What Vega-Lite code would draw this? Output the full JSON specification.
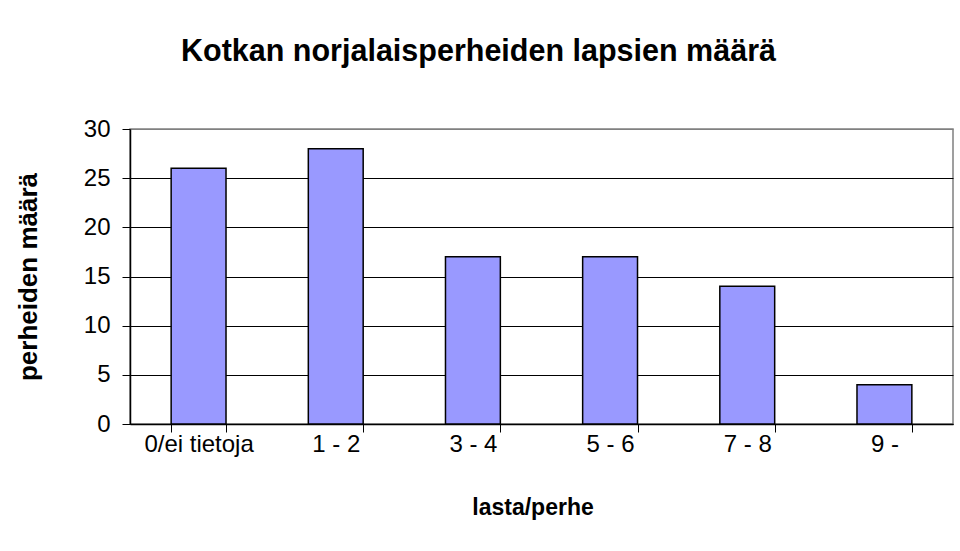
{
  "$schema": "https://vega.github.io/schema/vega-lite/v6.json",
  "width": 823,
  "height": 295,
  "autosize": {"type": "none"},
  "padding": {"left": 130, "top": 129, "right": 7, "bottom": 127},
  "background": "white",
  "title": {
    "text": "Kotkan norjalaisperheiden lapsien määrä",
    "font": "Liberation Sans",
    "fontSize": 30.5,
    "fontWeight": "bold",
    "color": "black",
    "anchor": "middle",
    "frame": "group",
    "dx": -63,
    "offset": 50
  },
  "data": {
    "values": [
      {"lasta": "0/ei tietoja", "perheita": 26},
      {"lasta": "1 - 2", "perheita": 28},
      {"lasta": "3 - 4", "perheita": 17},
      {"lasta": "5 - 6", "perheita": 17},
      {"lasta": "7 - 8", "perheita": 14},
      {"lasta": "9 -", "perheita": 4}
    ]
  },
  "mark": {"type": "bar", "color": "#9999FF", "stroke": "black", "strokeWidth": 1.5},
  "encoding": {
    "x": {
      "field": "lasta",
      "type": "nominal",
      "sort": null,
      "scale": {"paddingInner": 0.6, "paddingOuter": 0.3},
      "axis": {
        "title": "lasta/perhe",
        "labelAngle": 0,
        "tickBand": "extent",
        "tickSize": 8,
        "labelPadding": 0,
        "titlePadding": 40,
        "domainColor": "black",
        "tickColor": "black",
        "labelColor": "black",
        "titleColor": "black",
        "labelFont": "Liberation Sans",
        "labelFontSize": 24,
        "titleFont": "Liberation Sans",
        "titleFontSize": 23,
        "titleFontWeight": "bold",
        "titleX": {"expr": "width / 2 - 9"},
        "grid": false
      }
    },
    "y": {
      "field": "perheita",
      "type": "quantitative",
      "scale": {"domain": [0, 30], "nice": false},
      "axis": {
        "title": "perheiden määrä",
        "values": [0, 5, 10, 15, 20, 25, 30],
        "tickSize": 8,
        "labelPadding": 12,
        "titlePadding": 42,
        "domainColor": "black",
        "tickColor": "black",
        "labelColor": "black",
        "titleColor": "black",
        "labelFont": "Liberation Sans",
        "labelFontSize": 24,
        "titleFont": "Liberation Sans",
        "titleFontSize": 26,
        "titleFontWeight": "bold",
        "grid": true,
        "gridColor": {"condition": {"test": "datum.value == 30", "value": "#808080"}, "value": "black"},
        "gridOpacity": 1,
        "gridWidth": 1
      }
    }
  },
  "config": {
    "view": {"stroke": "#808080", "strokeWidth": 1.5},
    "axis": {"domainWidth": 1.5, "tickWidth": 1}
  }
}
